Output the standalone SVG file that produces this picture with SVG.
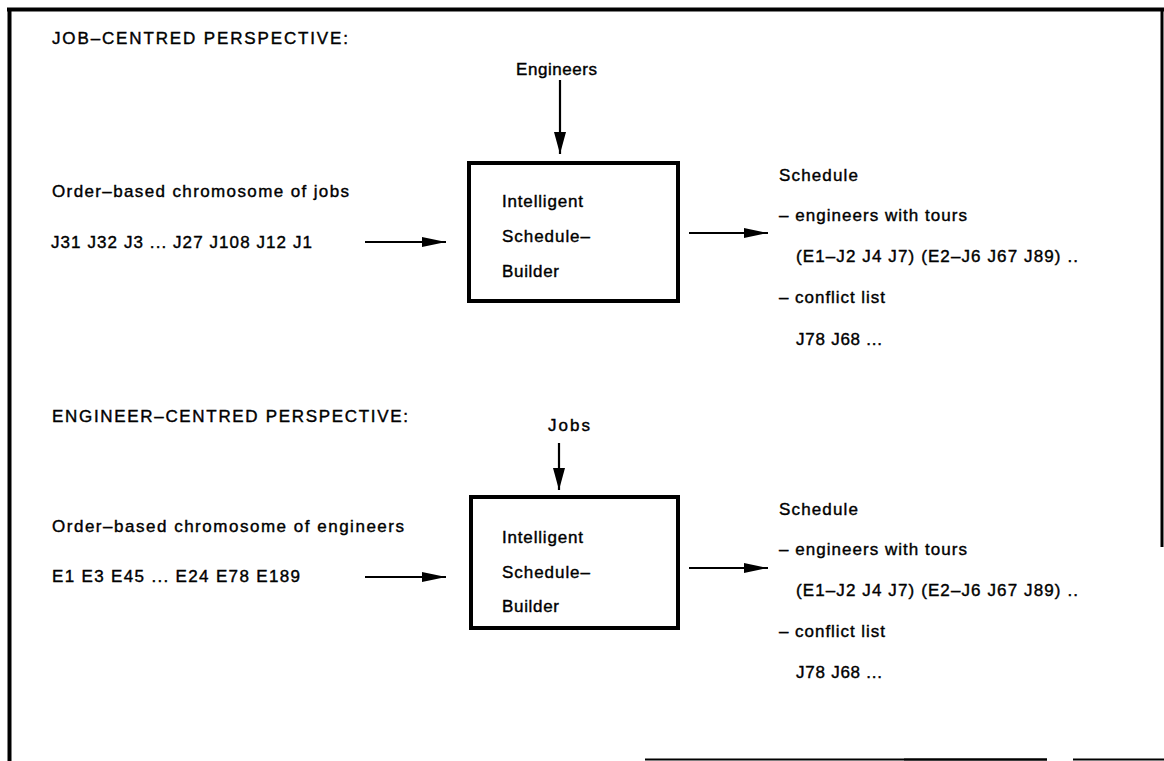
<svg xmlns="http://www.w3.org/2000/svg" width="1164" height="761" viewBox="0 0 1164 761">
  <style>
    text { font-family: "Liberation Sans", Arial, sans-serif; font-size: 17px; fill: #000; stroke: #000; stroke-width: 0.4; }
    .frame { stroke: #000; fill: none; }
    .box { fill: #fff; stroke: #000; stroke-width: 4; }
    .arrow { stroke: #000; stroke-width: 2.2; fill: none; }
  </style>
  <defs>
    <marker id="headH" markerUnits="userSpaceOnUse" markerWidth="26" markerHeight="12" refX="24" refY="6" orient="auto">
      <path d="M0,1 L24,6 L0,11 Z" fill="#000"/>
    </marker>
    <marker id="headV" markerUnits="userSpaceOnUse" markerWidth="24" markerHeight="14" refX="22" refY="7" orient="auto">
      <path d="M0,1 L22,7 L0,13 Z" fill="#000"/>
    </marker>
  </defs>

  <rect width="1164" height="761" fill="#fff"/>

  <!-- page frame -->
  <g id="frame">
    <line class="frame" x1="7" y1="9.5" x2="1164" y2="9.5" stroke-width="4"/>
    <line class="frame" x1="9.5" y1="8" x2="9.5" y2="761" stroke-width="4"/>
    <line class="frame" x1="1162" y1="8" x2="1162" y2="547" stroke-width="3"/>
    <line class="frame" x1="645" y1="759.5" x2="904" y2="759.5" stroke="#999" stroke-width="2"/>
    <line class="frame" x1="904" y1="759.5" x2="1047" y2="759.5" stroke-width="2.5"/>
    <line class="frame" x1="1073" y1="759.5" x2="1164" y2="759.5" stroke="#666" stroke-width="2"/>
  </g>

  <!-- section headings -->
  <text id="heading-job" x="52" y="44" textLength="296" lengthAdjust="spacing">JOB–CENTRED  PERSPECTIVE:</text>
  <text id="heading-engineer" x="52" y="422" textLength="356" lengthAdjust="spacing">ENGINEER–CENTRED PERSPECTIVE:</text>

  <!-- connectors -->
  <g id="connectors">
    <line class="arrow" x1="560" y1="80" x2="560" y2="154" marker-end="url(#headV)"/>
    <line class="arrow" x1="365" y1="242" x2="446" y2="242" marker-end="url(#headH)"/>
    <line class="arrow" x1="689" y1="233" x2="768" y2="233" marker-end="url(#headH)"/>
    <line class="arrow" x1="559" y1="443" x2="559" y2="490" marker-end="url(#headV)"/>
    <line class="arrow" x1="365" y1="577" x2="446" y2="577" marker-end="url(#headH)"/>
    <line class="arrow" x1="689" y1="568" x2="768" y2="568" marker-end="url(#headH)"/>
  </g>

  <!-- job-centred perspective -->
  <g id="input-engineers">
    <text x="516" y="75" textLength="81" lengthAdjust="spacing">Engineers</text>
  </g>
  <g id="chromosome-jobs">
    <text x="52" y="197" textLength="297" lengthAdjust="spacing">Order–based chromosome of jobs</text>
    <text x="51" y="248" textLength="261" lengthAdjust="spacing">J31 J32 J3 ... J27 J108 J12 J1</text>
  </g>
  <g id="builder-1">
    <rect class="box" x="469" y="163" width="209" height="138"/>
    <text x="502" y="207" textLength="81" lengthAdjust="spacing">Intelligent</text>
    <text x="502" y="242" textLength="88" lengthAdjust="spacing">Schedule–</text>
    <text x="502" y="277" textLength="57" lengthAdjust="spacing">Builder</text>
  </g>
  <g id="schedule-1">
    <text x="779" y="181" textLength="79" lengthAdjust="spacing">Schedule</text>
    <text x="779" y="221" textLength="188" lengthAdjust="spacing">– engineers with tours</text>
    <text x="796" y="262" textLength="282" lengthAdjust="spacing">(E1–J2 J4 J7)  (E2–J6 J67 J89) ..</text>
    <text x="779" y="303" textLength="106" lengthAdjust="spacing">– conflict list</text>
    <text x="796" y="345" textLength="86" lengthAdjust="spacing">J78 J68 ...</text>
  </g>

  <!-- engineer-centred perspective -->
  <g id="input-jobs">
    <text x="548" y="431" textLength="42" lengthAdjust="spacing">Jobs</text>
  </g>
  <g id="chromosome-engineers">
    <text x="52" y="532" textLength="352" lengthAdjust="spacing">Order–based  chromosome of engineers</text>
    <text x="52" y="582" textLength="248" lengthAdjust="spacing">E1 E3 E45 ... E24 E78 E189</text>
  </g>
  <g id="builder-2">
    <rect class="box" x="471" y="497" width="207" height="131"/>
    <text x="502" y="543" textLength="81" lengthAdjust="spacing">Intelligent</text>
    <text x="502" y="578" textLength="88" lengthAdjust="spacing">Schedule–</text>
    <text x="502" y="612" textLength="57" lengthAdjust="spacing">Builder</text>
  </g>
  <g id="schedule-2">
    <text x="779" y="515" textLength="79" lengthAdjust="spacing">Schedule</text>
    <text x="779" y="555" textLength="188" lengthAdjust="spacing">– engineers with tours</text>
    <text x="796" y="596" textLength="282" lengthAdjust="spacing">(E1–J2 J4 J7)  (E2–J6 J67 J89) ..</text>
    <text x="779" y="637" textLength="106" lengthAdjust="spacing">– conflict list</text>
    <text x="796" y="678" textLength="86" lengthAdjust="spacing">J78 J68 ...</text>
  </g>
</svg>
